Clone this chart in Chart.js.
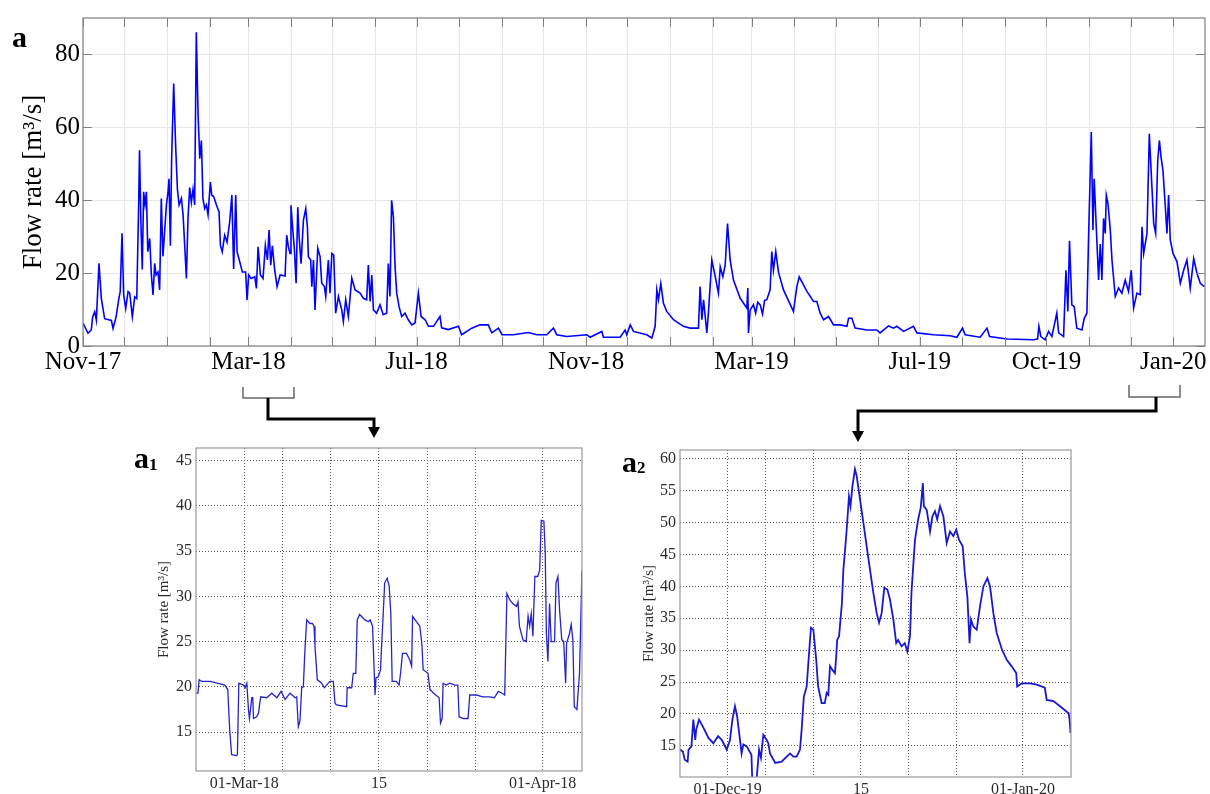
<!DOCTYPE html>
<html>
<head>
<meta charset="utf-8">
<script src="https://cdn.jsdelivr.net/npm/chart.js@4.4.1/dist/chart.umd.min.js"></script>
<style>
  body { margin: 0; background: #fff; width: 1210px; height: 794px; overflow: hidden; position: relative; }
  canvas { position: absolute; }
  svg { position: absolute; left: 0; top: 0; pointer-events: none; font-family: "Liberation Serif", serif; }
</style>
</head>
<body>
<canvas id="mainChart" width="1210" height="390" style="left:0;top:0"></canvas>
<canvas id="marChart" width="460" height="370" style="left:130px;top:428px"></canvas>
<canvas id="decChart" width="480" height="370" style="left:600px;top:428px"></canvas>

<svg width="1210" height="794">
  <text x="12" y="47" font-size="30" font-weight="bold">a</text>
  <text x="134" y="468" font-size="30" font-weight="bold">a<tspan font-size="17" dy="2">1</tspan></text>
  <text x="622" y="472" font-size="30" font-weight="bold">a<tspan font-size="17" dy="1">2</tspan></text>
  <path d="M243 387 V398 H294 V387" stroke="#666" stroke-width="1.5" fill="none"/>
  <path d="M268 398 V419 H374 V428" stroke="#000" stroke-width="3" fill="none"/>
  <polygon points="368,427 380,427 374,438" fill="#000"/>
  <path d="M1129 385 V397 H1180 V385" stroke="#666" stroke-width="1.5" fill="none"/>
  <path d="M1156 397 V411 H858 V432" stroke="#000" stroke-width="3" fill="none"/>
  <polygon points="852,431 864,431 858,442" fill="#000"/>
</svg>

<script>
var SERIF = '"Liberation Serif", "Times New Roman", serif';

// main record: days since 01-Nov-2017, flow rate in m3/s
var mainDays = [
  0, 3.6, 6, 7, 8.5, 9.7, 11.6, 13.3, 15.7, 20.6,
  21.8, 24, 26, 27, 28.3, 29.5, 31, 32.7, 33.9, 35.8,
  37.5, 39, 40.4, 41, 42, 43, 44, 45, 46, 47,
  48.4, 49.6, 50.8, 52, 53, 54.4, 55.6, 56.8, 58, 59.3,
  60.5, 61.7, 62.4, 63.4, 64.3, 65.8, 67.2, 68.5, 69.7, 71.4,
  72.6, 73.8, 75, 76.2, 77.4, 78.6, 79.8, 81, 82.2, 83.5,
  84.7, 85.9, 87, 88.3, 89.5, 90.7, 92.4, 93.4, 94.8, 96.8,
  98.7, 99.7, 101, 102.8, 104.5, 106.4, 108, 109.3, 110.8, 111.8,
  113.7, 115.6, 118, 119, 120.2, 122, 124.6, 125.8, 127, 128.7,
  130.6, 132.3, 133.8, 135, 136.2, 137.4, 139, 140.8, 143, 146.6,
  147.8, 149, 150.2, 150.9, 152.1, 153.4, 154.6, 155.8, 156.8, 158.2,
  159.9, 161.6, 162.8, 163.5, 165.2, 166, 167.2, 168.3, 170.3, 172,
  173.2, 175.1, 176.1, 178, 179.2, 180.5, 181.9, 183.3, 185.3, 187.7,
  188.9, 190.6, 192.5, 195, 197.4, 201, 203.4, 205.8, 207, 208.3,
  209.5, 210.7, 213, 215.5, 217.8, 220.3, 221.5, 222.7, 223.9, 225.2,
  226.4, 227.6, 229.3, 231.2, 233.6, 236, 238.5, 240.9, 243.3, 245.3,
  248.2, 250.6, 254.3, 259, 260.2, 265, 272.4, 274.7, 282, 288,
  294, 296.6, 301.4, 304, 312.3, 323.1, 329.2, 336.4, 341.3, 343.7,
  351, 365.5, 367.9, 376.4, 377.6, 389.7, 393.3, 394.5, 397, 399.4,
  409, 412.7, 415.1, 416.3, 417.5, 419.2, 421.1, 423.5, 428.4, 435.6,
  440.5, 446.5, 447.7, 449, 450.2, 451.4, 452.6, 453.8, 456.2, 458.7,
  461, 462.3, 464.2, 465.9, 467.6, 469.5, 471.9, 476.8, 481.6, 482.3,
  482.8, 484, 486.4, 488, 489.5, 491.3, 493, 494.5, 496.1, 498.5,
  499.7, 500.9, 502.6, 504.6, 508.2, 515.4, 517.9, 519.6, 525.2, 530,
  532.4, 534.8, 537.3, 540.9, 544.5, 549.3, 554.2, 555.4, 557.8, 560.2,
  568.7, 575.9, 578.3, 584.4, 588, 590.4, 595.3, 602.5, 605, 617,
  629.1, 634, 638.1, 640, 650.9, 655.8, 657.7, 670.3, 689.6, 692.5,
  693.5, 694.9, 698.1, 700.5, 702.9, 706.5, 707.8, 711.4, 713.1, 714.5,
  715.7, 717.4, 719.1, 721, 724.7, 726.4, 728.3, 729.5, 731.5, 732.7,
  733.6, 735.1, 736.8, 738, 739.2, 740.4, 741.6, 742.4, 743.6, 745.3,
  746.5, 748.9, 751.3, 753.7, 756.1, 758.5, 760.5, 762.2, 764.6, 767,
  768.3, 769.5, 771.9, 773.6, 775.5, 776.8, 778.2, 779.7, 780.9, 782.1,
  783.5, 785.2, 786.4, 787.6, 788.8, 790.8, 793.7, 796.1, 798.5, 800.9,
  803.3, 805.8, 808.2, 810.6, 813.5
];
var mainFlow = [
  6.3, 3.5, 4.4, 8.0, 9.4, 7.1, 22.7, 13, 7.5, 7,
  4.8, 8, 13, 14.9, 30.9, 14, 10.3, 14.9, 14.5, 8,
  13.5, 13, 39.1, 53.7, 34, 21, 42.3, 38.8, 42.3, 25.9,
  29.5, 19.5, 14, 22.7, 19.5, 20.3, 15.4, 40.5, 24.6, 31.9,
  38.7, 42.3, 45.9, 27.5, 51.4, 72, 55, 43, 38.7, 40.5,
  36, 27.5, 18.5, 35.3, 43.5, 39.5, 43, 38.7, 86.1, 63.3,
  51.4, 56.4, 40.5, 37.7, 38.7, 36, 45, 41.4, 41, 38.7,
  36.8, 27.6, 25.8, 30.4, 28.5, 34, 41.4, 21.1, 41.4, 25.8,
  23.1, 20.3, 20.3, 12.6, 19.5, 18.5, 19, 15.8, 27.2, 19.5,
  18.5, 27.6, 23.6, 31.8, 22.2, 27.5, 21.1, 16.3, 19.5, 19.2,
  30.4, 27.2, 25.4, 38.6, 32.3, 26.3, 17.2, 38.1, 29.9, 22.6,
  34.5, 37.7, 32.7, 24.5, 23.6, 16.3, 23.6, 9.9, 26.8, 24.5,
  17.2, 16.3, 13.6, 23.6, 14.5, 25.4, 25, 9, 13.6, 9.9,
  6.7, 12.7, 8.1, 18.6, 15.4, 14.5, 13.1, 12.7, 22.2, 12.2,
  19.5, 9.9, 9, 11.3, 8.6, 9, 22.6, 13.6, 40, 35.4,
  21.7, 14.5, 10.8, 8.1, 9, 7.2, 5.8, 6.3, 14.5, 8.1,
  7.2, 5.4, 5.4, 8.1, 5, 4.5, 5.4, 3.1, 4.9, 5.8,
  5.8, 3.6, 4.9, 3.1, 3.1, 3.7, 3.1, 3.1, 4.9, 3.1,
  2.6, 3.1, 2.4, 4, 2.4, 2.4, 4.4, 3.1, 5.8, 4,
  3.1, 2.2, 5.4, 15.4, 12.7, 17.2, 11.7, 9.5, 7.2, 5.4,
  4.9, 4.9, 16.3, 7.2, 12.7, 8.1, 3.6, 9.5, 23.6, 19,
  14.5, 21.7, 19, 22.2, 33.6, 23.6, 18.1, 13.1, 10.4, 15.9,
  3.6, 9.9, 11.3, 9, 12, 11.3, 8.8, 12.5, 12.7, 15.4,
  25.9, 20.8, 25.9, 20.2, 15.4, 9.5, 16.3, 19, 15, 12.2,
  12.2, 9, 7.2, 8.1, 5.8, 5.8, 5.4, 7.6, 7.6, 4.9,
  4.4, 4.4, 3.6, 5.5, 4.9, 5.4, 4, 5.4, 3.6, 3.1,
  2.8, 2.4, 4.9, 3.1, 2.4, 4.9, 2.6, 1.9, 1.7, 1.9,
  5.4, 2.6, 1.7, 4, 2.6, 9, 3.6, 2.6, 20.8, 9.5,
  28.9, 11.3, 10.8, 4.9, 4.4, 7.6, 9, 29.3, 58.7, 31.8,
  45.9, 32.7, 18.1, 28, 18.1, 35, 30.9, 41.4, 39.1, 31.8,
  23.6, 13.6, 15.9, 14.5, 18.1, 15, 20.8, 10.4, 14.5, 14.1,
  32.7, 25.4, 30.9, 58.2, 43.6, 33.6, 30.9, 50.9, 56.4, 51.9,
  48.2, 38.2, 30.9, 41.4, 29.1, 25.4, 23.1, 17.2, 20.8, 23.6,
  15.9, 24, 19.9, 17.2, 16.3
];
var mainTickDays = [0, 30, 61, 92, 120, 151, 181, 212, 242, 273, 304, 334, 365, 395,
  426, 457, 485, 516, 546, 577, 607, 638, 669, 699, 730, 760, 791];
var mainTickLabels = ['Nov-17', '', '', '', 'Mar-18', '', '', '', 'Jul-18', '', '', '', 'Nov-18', '',
  '', '', 'Mar-19', '', '', '', 'Jul-19', '', '', 'Oct-19', '', '', 'Jan-20'];
var mainYTicks = [0, 20, 40, 60, 80];

// a1: days since 01-Mar-2018
var marDays = [
  -5.0, -4.8, -4.67, -4.4, -3.5, -2.8, -2.0, -1.7, -1.5, -1.3,
  -0.8, -0.7, -0.55, -0.07, 0.1, 0.28, 0.45, 0.55, 0.8, 0.9,
  0.97, 1.3, 1.5, 1.6, 1.73, 2.35, 2.87, 3.4, 3.84, 4.25,
  4.77, 5.3, 5.46, 5.63, 5.8, 5.98, 6.15, 6.3, 6.5, 6.84,
  7.1, 7.26, 7.36, 7.6, 8.05, 8.33, 8.57, 8.9, 9.26, 9.44,
  9.6, 10.65, 10.7, 11.17, 11.34, 11.6, 11.75, 12.0, 12.55, 12.9,
  13.1, 13.34, 13.6, 13.7, 13.93, 14.17, 14.28, 14.45, 14.6, 14.86,
  15.07, 15.24, 15.38, 15.83, 16.1, 16.25, 16.45, 16.87, 17.2, 17.4,
  17.5, 17.9, 18.25, 18.46, 18.6, 19.1, 19.3, 19.9, 20.26, 20.4,
  20.57, 20.67, 21.0, 21.36, 21.88, 22.2, 22.33, 22.75, 23.26, 23.44,
  24.13, 24.8, 25.5, 26.0, 26.4, 26.8, 27.07, 27.3, 27.6, 27.9,
  28.3, 28.45, 28.6, 28.97, 29.3, 29.5, 29.66, 29.83, 30.0, 30.2,
  30.5, 30.7, 30.87, 31.14, 31.28, 31.4, 31.56, 31.73, 31.9, 32.25,
  32.4, 32.6, 32.77, 33.0, 33.2, 33.4, 33.5, 33.8, 33.98, 34.15,
  34.3, 34.57, 34.84, 35.1
];
var marFlow = [
  19.3, 19.3, 20.8, 20.6, 20.6, 20.4, 20.2, 19.7, 15.3, 12.5,
  12.4, 12.5, 20.4, 20.2, 19.9, 20.4, 17.5, 16.5, 18.8, 18.8,
  16.5, 16.7, 17.1, 18.0, 18.9, 18.8, 19.3, 18.8, 19.5, 18.6,
  19.3, 18.8, 18.9, 15.6, 16.2, 19.9, 20.0, 23.7, 27.4, 27.0,
  27.0, 26.7, 24.5, 20.8, 20.4, 19.9, 20.2, 20.6, 20.6, 18.2,
  18.0, 17.8, 19.9, 19.9, 21.5, 21.5, 27.4, 28.0, 27.4, 27.2,
  27.4, 26.7, 19.1, 21.0, 21.1, 21.9, 24.5, 28.1, 31.5, 32.0,
  31.1, 28.1, 20.6, 20.6, 20.2, 21.5, 23.7, 23.7, 23.0, 22.3,
  27.8, 27.2, 26.7, 24.8, 21.9, 21.5, 19.7, 19.1, 18.8, 16.0,
  16.5, 20.4, 20.2, 20.4, 20.2, 20.2, 16.7, 16.5, 16.5, 19.1,
  19.1, 18.9, 18.9, 18.8, 19.5, 19.3, 19.1, 30.3, 29.6, 29.2,
  28.9, 29.4, 26.7, 25.2, 25.0, 27.8, 26.7, 28.1, 25.6, 32.2,
  32.2, 32.9, 38.4, 38.3, 34.8, 25.9, 22.8, 29.2, 25.0, 25.0,
  31.5, 32.2, 28.5, 25.2, 25.0, 20.4, 24.8, 25.9, 26.9, 25.2,
  17.8, 17.5, 21.5, 32.9
];
var marTickDays = [0, 4, 9, 14, 19, 24, 31];
var marTickLabels = ['01-Mar-18', '', '', '15', '', '', '01-Apr-18'];
var marYTicks = [15, 20, 25, 30, 35, 40, 45];

// a2: days since 01-Dec-2019
var decDays = [
  -5.0, -4.7, -4.5, -4.2, -4.1, -3.8, -3.6, -3.4, -3.3, -3.0,
  -2.6, -2.0, -1.5, -1.0, -0.6, -0.1, 0.25, 0.5, 0.77, 1.0,
  1.3, 1.47, 1.65, 2.0, 2.5, 2.6, 3.0, 3.3, 3.5, 3.75,
  4.1, 4.27, 4.45, 5.0, 5.67, 6.2, 6.55, 6.9, 7.25, 7.6,
  7.77, 8.0, 8.3, 8.6, 8.75, 9.0, 9.3, 9.5, 9.87, 10.2,
  10.4, 10.57, 10.75, 11.0, 11.27, 11.4, 11.5, 11.7, 12.0, 12.15,
  12.3, 12.5, 12.74, 12.9, 13.1, 13.37, 13.55, 13.8, 14.25, 14.6,
  14.95, 15.3, 15.65, 15.9, 16.17, 16.45, 16.77, 17.05, 17.4, 17.7,
  17.9, 18.27, 18.6, 18.87, 19.15, 19.3, 19.67, 20.0, 20.27, 20.5,
  20.6, 20.9, 21.25, 21.5, 21.77, 22.0, 22.3, 22.65, 23.0, 23.35,
  23.7, 24.0, 24.3, 24.68, 24.9, 25.17, 25.4, 25.55, 25.8, 26.15,
  26.5, 26.85, 27.27, 27.55, 27.9, 28.25, 28.8, 29.3, 29.8, 30.3,
  30.4, 30.87, 31.75, 32.45, 33.3, 33.5, 34.2, 34.9, 35.8, 35.9,
  36.0
];
var decFlow = [
  14.4, 14.1, 12.8, 12.5, 14.4, 14.9, 19.1, 15.9, 17.5, 19.1,
  18.0, 16.2, 15.4, 16.5, 15.9, 14.4, 15.9, 19.1, 21.2, 19.6,
  15.9, 13.8, 15.2, 14.9, 13.6, 9.0, 9.0, 14.4, 13.1, 16.7,
  15.9, 15.4, 13.8, 12.3, 12.5, 13.3, 13.8, 13.3, 13.3, 14.4,
  17.5, 22.7, 24.3, 30.6, 33.5, 33.2, 28.5, 24.3, 21.7, 21.7,
  23.3, 23.0, 27.5, 26.9, 26.4, 29.0, 31.6, 32.2, 37.4, 42.6,
  45.2, 48.9, 54.1, 52.6, 55.7, 58.4, 57.3, 54.7, 50.0, 46.3,
  42.6, 39.0, 35.8, 34.3, 35.8, 39.8, 39.5, 37.9, 34.8, 31.1,
  31.6, 30.6, 31.1, 29.8, 32.2, 39.0, 47.3, 50.5, 52.3, 56.2,
  52.6, 52.0, 48.6, 51.0, 51.8, 50.5, 52.6, 51.0, 46.8, 48.6,
  47.9, 48.9, 47.3, 46.3, 42.1, 38.4, 31.1, 34.8, 33.7, 33.2,
  36.9, 40.0, 41.3, 40.0, 35.8, 32.7, 30.1, 28.5, 27.5, 26.4,
  24.3, 24.8, 24.8, 24.6, 24.1, 22.2, 22.0, 21.2, 20.1, 19.1,
  17.0
];
var decTickDays = [0, 4, 9, 14, 19, 24, 31];
var decTickLabels = ['01-Dec-19', '', '', '15', '', '', '01-Jan-20'];
var decYTicks = [15, 20, 25, 30, 35, 40, 45, 50, 55, 60];

// box round the plot area, optional inward tick marks (matlab style)
var frame = {
  id: 'frame',
  afterDraw: function (chart, args, opts) {
    var a = chart.chartArea, ctx = chart.ctx;
    var sx = chart.scales.x, sy = chart.scales.y;
    ctx.save();
    ctx.strokeStyle = opts.color;
    ctx.lineWidth = 1;
    if (opts.tick) {
      ctx.beginPath();
      sx.ticks.forEach(function (t) {
        var x = Math.round(sx.getPixelForValue(t.value)) + 0.5;
        ctx.moveTo(x, a.bottom); ctx.lineTo(x, a.bottom - opts.tick);
        ctx.moveTo(x, a.top); ctx.lineTo(x, a.top + opts.tick);
      });
      sy.ticks.forEach(function (t) {
        var y = Math.round(sy.getPixelForValue(t.value)) + 0.5;
        ctx.moveTo(a.left, y); ctx.lineTo(a.left + opts.tick, y);
        ctx.moveTo(a.right, y); ctx.lineTo(a.right - opts.tick, y);
      });
      ctx.stroke();
    }
    ctx.lineWidth = opts.width;
    ctx.strokeRect(a.left, a.top, a.right - a.left, a.bottom - a.top);
    ctx.restore();
  }
};

var drawFlow = function (id, o) {
  var ctx = document.getElementById(id);
  return new Chart(ctx, {
    type: 'line',
    data: {
      datasets: [{
        data: o.days.map(function (d, i) { return { x: d, y: o.flow[i] }; }),
        borderColor: o.color,
        borderWidth: o.lineWidth,
        pointRadius: 0,
        tension: 0,
        fill: false
      }]
    },
    options: {
      responsive: false,
      animation: false,
      devicePixelRatio: 1,
      events: [],
      layout: { padding: o.pad },
      plugins: {
        legend: { display: false },
        tooltip: { enabled: false },
        frame: { color: o.frameColor, width: o.frameWidth, tick: o.innerTick }
      },
      scales: {
        x: {
          type: 'linear',
          min: o.xMin,
          max: o.xMax,
          afterBuildTicks: function (s) { s.ticks = o.xTicks.map(function (v) { return { value: v }; }); },
          afterFit: function (s) { s.height = o.xHeight; },
          ticks: {
            autoSkip: false, maxRotation: 0, padding: o.xPad, color: o.textColor,
            font: { family: SERIF, size: o.tickSize },
            callback: function (v, i) { return o.xLabels[i]; }
          },
          grid: { color: o.gridColor, drawTicks: false },
          border: { display: false, dash: o.dash }
        },
        y: {
          min: o.yMin,
          max: o.yMax,
          afterBuildTicks: function (s) { s.ticks = o.yTicks.map(function (v) { return { value: v }; }); },
          afterFit: function (s) { s.width = o.yWidth; },
          ticks: { padding: o.yPad, color: o.textColor, font: { family: SERIF, size: o.tickSize } },
          grid: { color: o.gridColor, drawTicks: false },
          border: { display: false, dash: o.dash },
          title: {
            display: true, text: 'Flow rate [m³/s]', color: o.textColor,
            font: { family: SERIF, size: o.titleSize },
            padding: { top: o.titlePad, bottom: 0 }
          }
        }
      }
    },
    plugins: [frame]
  });
};

drawFlow('mainChart', {
  days: mainDays, flow: mainFlow, color: '#0000ff', lineWidth: 1.6,
  xMin: 0, xMax: 814, xTicks: mainTickDays, xLabels: mainTickLabels,
  yMin: 0, yMax: 90, yTicks: mainYTicks,
  pad: { top: 17, right: 5, left: 0, bottom: 0 }, xHeight: 44, yWidth: 83,
  xPad: 1, yPad: 3, tickSize: 25, titleSize: 27, titlePad: 18,
  textColor: '#000', gridColor: '#e6e6e6', dash: [],
  frameColor: '#808080', frameWidth: 1.2, innerTick: 9
});

drawFlow('marChart', {
  days: marDays, flow: marFlow, color: '#2424c8', lineWidth: 1.3,
  xMin: -5, xMax: 35.1, xTicks: marTickDays, xLabels: marTickLabels,
  yMin: 10.7, yMax: 46.4, yTicks: marYTicks,
  pad: { top: 20, right: 8, left: 0, bottom: 0 }, xHeight: 27, yWidth: 66,
  xPad: 3, yPad: 4, tickSize: 16, titleSize: 15, titlePad: 25,
  textColor: '#2b2b2b', gridColor: '#555', dash: [1, 2],
  frameColor: '#999', frameWidth: 1.2, innerTick: 0
});

drawFlow('decChart', {
  days: decDays, flow: decFlow, color: '#1818d0', lineWidth: 1.8,
  xMin: -5, xMax: 36.05, xTicks: decTickDays, xLabels: decTickLabels,
  yMin: 10.1, yMax: 61.4, yTicks: decYTicks,
  pad: { top: 22, right: 9, left: 0, bottom: 0 }, xHeight: 21, yWidth: 80,
  xPad: 3, yPad: 4, tickSize: 16, titleSize: 15, titlePad: 40,
  textColor: '#2b2b2b', gridColor: '#555', dash: [1, 2],
  frameColor: '#999', frameWidth: 1.2, innerTick: 0
});
</script>
</body>
</html>
